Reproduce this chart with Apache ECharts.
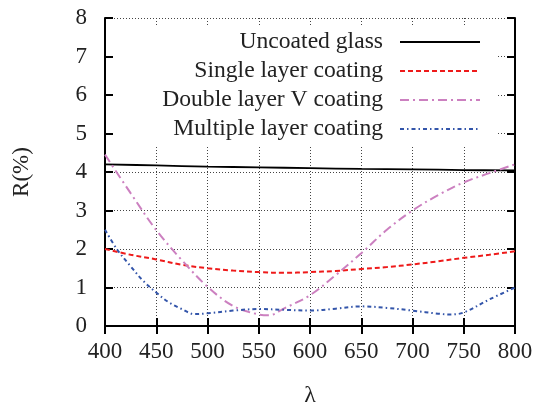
<!DOCTYPE html>
<html>
<head>
<meta charset="utf-8">
<script src="https://cdn.jsdelivr.net/npm/echarts@6/dist/echarts.min.js"></script>
<style>html,body{margin:0;padding:0;background:#fff}#c{width:537px;height:409px}</style>
</head>
<body>
<div id="c"></div>
<script>
const seriesNames = ['Uncoated glass', 'Single layer coating', 'Double layer V coating', 'Multiple layer coating'];
const xTicks = [400, 450, 500, 550, 600, 650, 700, 750, 800];
const yTicks = [0, 1, 2, 3, 4, 5, 6, 7, 8];

const uncoatedX = [400, 450, 500, 550, 600, 650, 700, 750, 800];
const uncoatedY = [4.2, 4.17, 4.14, 4.12, 4.1, 4.08, 4.07, 4.05, 4.04];

const singleX = [400, 425, 450, 475, 500, 525, 550, 575, 600, 625, 650, 675, 700, 725, 750, 775, 800];
const singleY = [2.0, 1.85, 1.73, 1.59, 1.5, 1.44, 1.4, 1.38, 1.4, 1.43, 1.48, 1.53, 1.6, 1.68, 1.77, 1.85, 1.94];

const doubleX = [400, 425, 450, 475, 500, 525, 550, 560, 575, 600, 625, 650, 675, 700, 725, 750, 775, 800];
const doubleY = [4.45, 3.45, 2.49, 1.71, 1.02, 0.52, 0.3, 0.28, 0.46, 0.8, 1.32, 1.89, 2.5, 3.0, 3.4, 3.73, 3.97, 4.2];

const multiX = [400, 412, 425, 437, 450, 462, 475, 487, 500, 525, 550, 575, 600, 625, 650, 675, 700, 725, 737, 750, 775, 800];
const multiY = [2.5, 1.98, 1.55, 1.18, 0.87, 0.62, 0.44, 0.31, 0.33, 0.4, 0.44, 0.42, 0.4, 0.45, 0.51, 0.47, 0.4, 0.32, 0.3, 0.35, 0.69, 1.0];

const colors = ['#000000', '#ee1a1a', '#cc80c0', '#3355aa'];
const dashes = ['solid', [5, 3], [9, 4, 2, 4], [4, 3, 1.5, 3]];
const xs = [uncoatedX, singleX, doubleX, multiX];
const ys = [uncoatedY, singleY, doubleY, multiY];

const font = 'Liberation Serif, Times New Roman, serif';
const chart = echarts.init(document.getElementById('c'), null, {renderer: 'canvas'});

const series = seriesNames.map((n, i) => ({
  name: n,
  type: 'line',
  data: xs[i].map((x, k) => [x, ys[i][k]]),
  smooth: 0.35,
  symbol: 'none',
  showSymbol: false,
  z: 3,
  lineStyle: {color: colors[i], width: i === 0 ? 1.8 : 2, type: dashes[i]},
  itemStyle: {color: colors[i]}
}));

const axisLabelStyle = {fontFamily: font, fontSize: 23, color: '#222'};

chart.setOption({
  animation: false,
  backgroundColor: '#fff',
  grid: {left: 105, right: 22, top: 18, bottom: 83, containLabel: false, outerBoundsMode: 'none'},
  xAxis: [{
    type: 'value', min: 400, max: 800, interval: 50,
    name: 'λ', nameLocation: 'middle', nameGap: 58,
    nameTextStyle: {fontFamily: font, fontSize: 24, color: '#222'},
    axisLine: {show: true, lineStyle: {color: '#000', width: 2}},
    axisTick: {show: true, inside: true, length: 8, lineStyle: {color: '#000', width: 2}},
    axisLabel: Object.assign({margin: 14, formatter: v => xTicks.includes(v) ? String(v) : ''}, axisLabelStyle),
    splitLine: {show: true, lineStyle: {color: '#444', width: 1, type: [1, 2]}}
  }, {
    type: 'value', position: 'top', min: 400, max: 800, interval: 50,
    axisLine: {show: true, lineStyle: {color: '#000', width: 2}},
    axisTick: {show: true, inside: true, length: 8, lineStyle: {color: '#000', width: 2}},
    axisLabel: {show: false}, splitLine: {show: false}
  }],
  yAxis: [{
    type: 'value', min: 0, max: 8, interval: 1,
    name: 'R(%)', nameLocation: 'middle', nameGap: 72,
    nameTextStyle: {fontFamily: font, fontSize: 23, color: '#222'},
    axisLine: {show: true, lineStyle: {color: '#000', width: 2}},
    axisTick: {show: true, inside: true, length: 8, lineStyle: {color: '#000', width: 2}},
    axisLabel: Object.assign({margin: 18, formatter: v => yTicks.includes(v) ? String(v) : ''}, axisLabelStyle),
    splitLine: {show: true, lineStyle: {color: '#444', width: 1, type: [1, 2]}}
  }, {
    type: 'value', position: 'right', min: 0, max: 8, interval: 1,
    axisLine: {show: true, lineStyle: {color: '#000', width: 2}},
    axisTick: {show: true, inside: true, length: 8, lineStyle: {color: '#000', width: 2}},
    axisLabel: {show: false}, splitLine: {show: false}
  }],
  graphic: {elements: [{
    type: 'rect', z: 5, silent: true,
    shape: {x: 113, y: 27, width: 385, height: 118},
    style: {fill: '#fff'}
  }]},
  legend: {
    z: 10,
    orient: 'vertical',
    align: 'right',
    right: 56,
    top: 30,
    padding: 0,
    itemWidth: 80,
    itemHeight: 10,
    itemGap: 5,
    itemStyle: {opacity: 0},
    textStyle: {fontFamily: font, fontSize: 23.6, color: '#222', lineHeight: 24, padding: [0, 12, 0, 0]},
    data: seriesNames
  },
  series: series
});
</script>
</body>
</html>
